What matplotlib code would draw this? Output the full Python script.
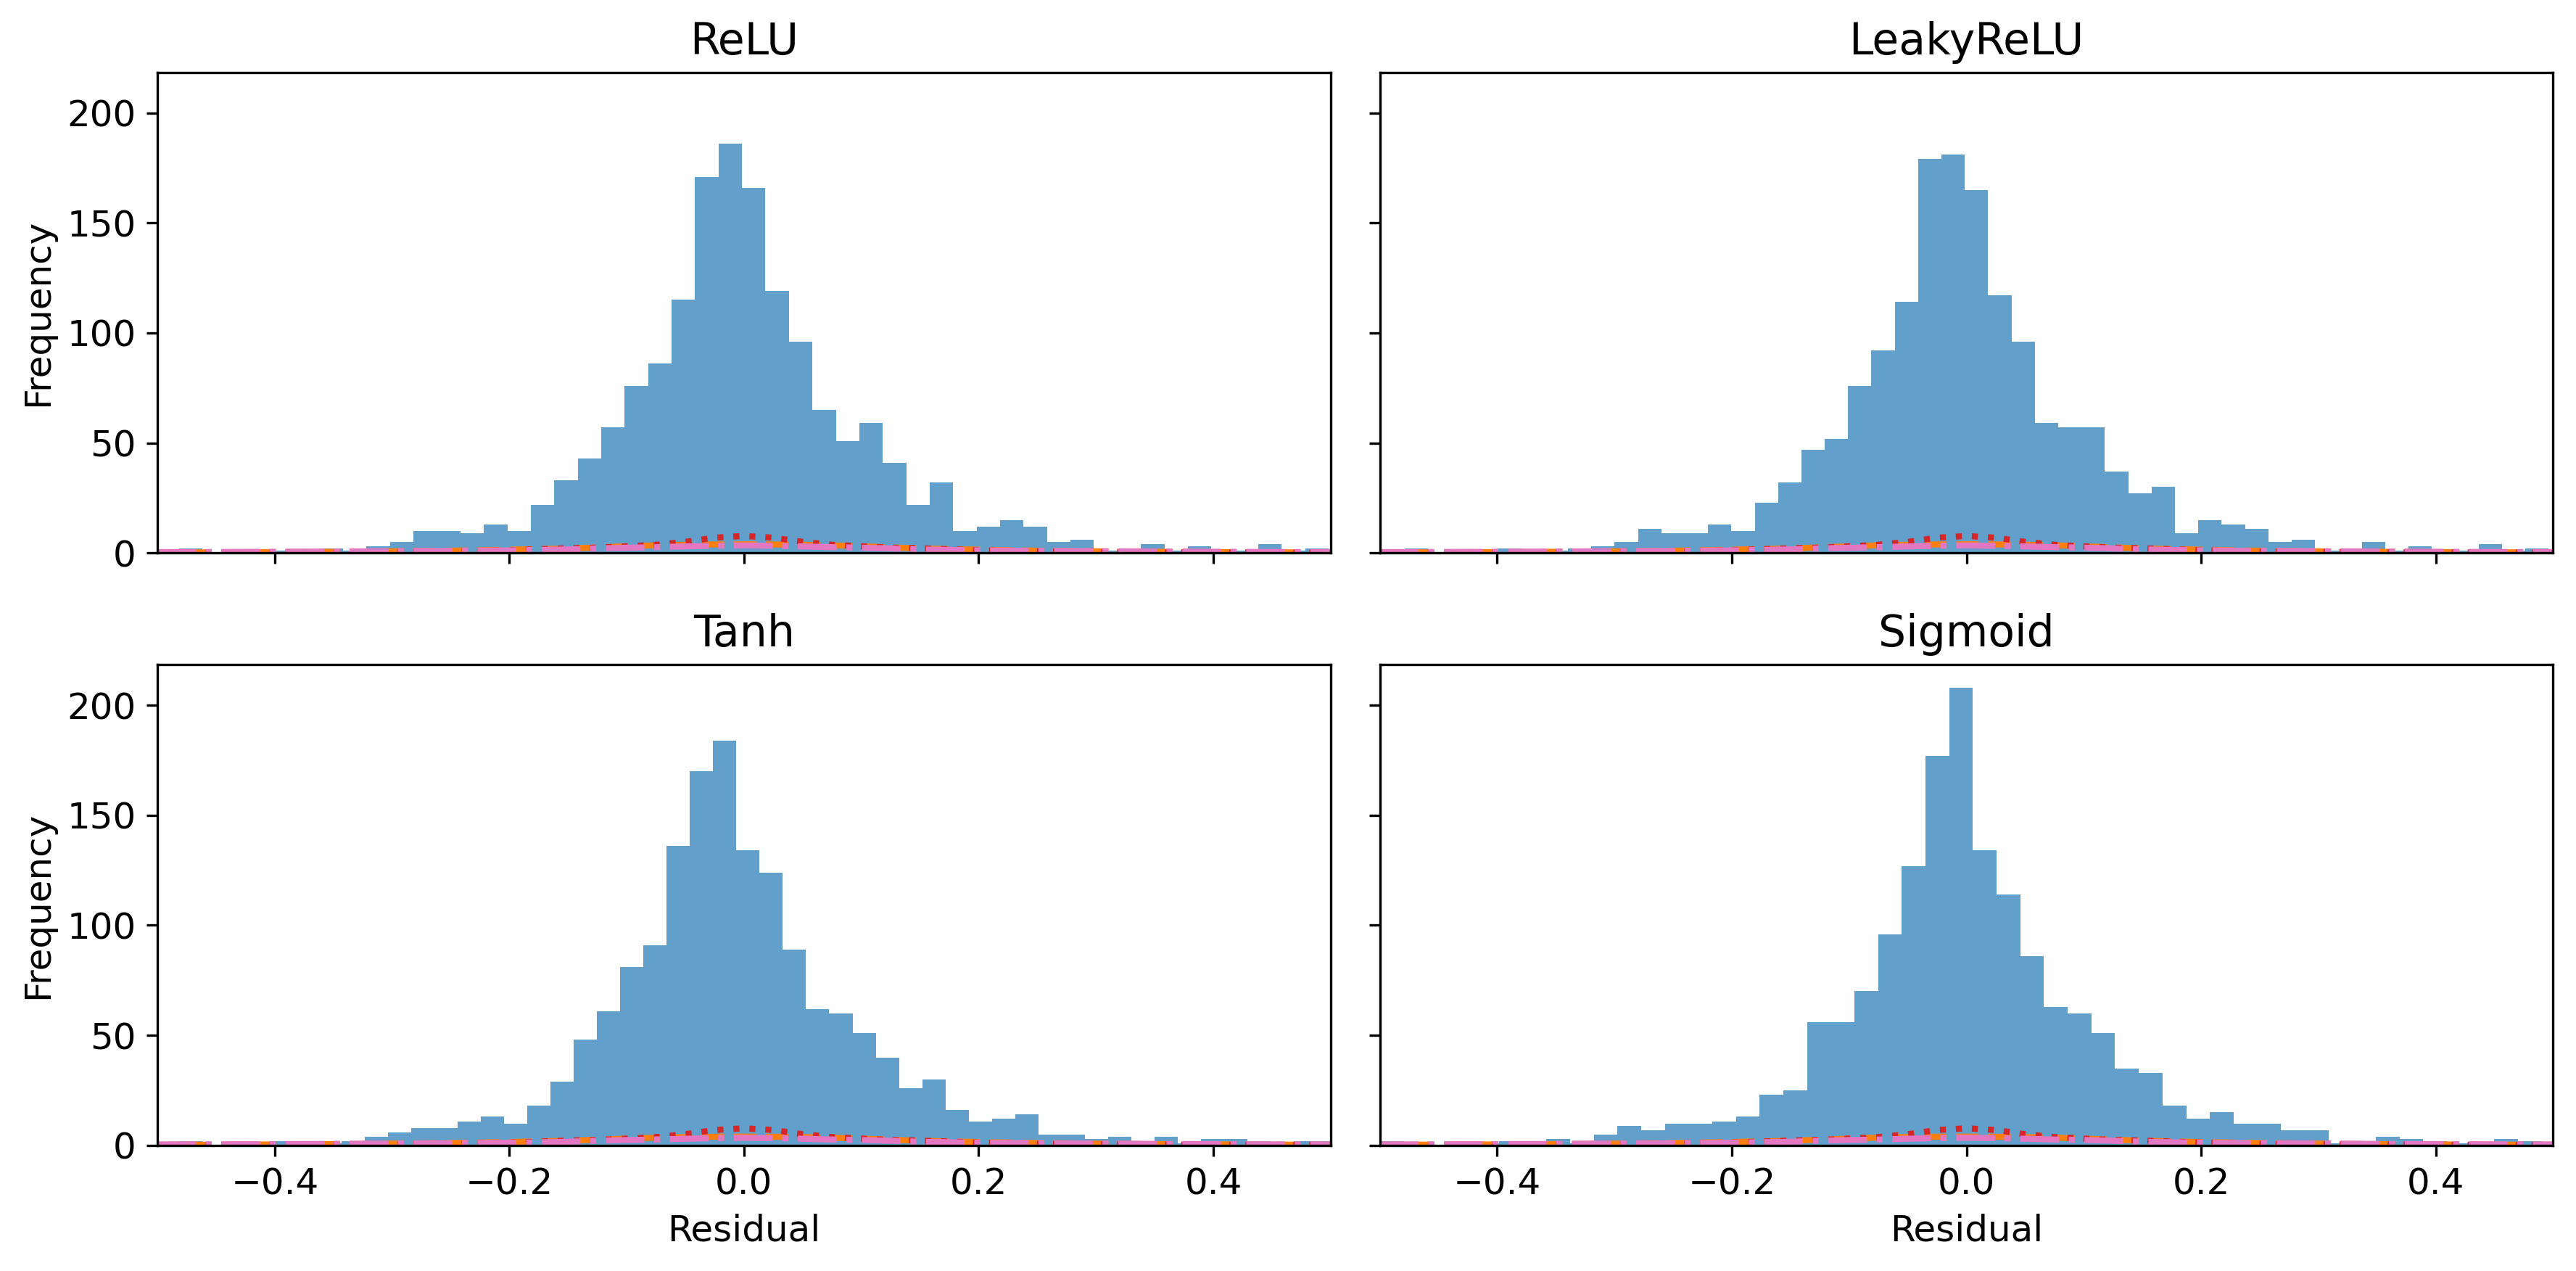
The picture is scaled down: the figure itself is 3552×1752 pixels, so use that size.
import numpy as np
import matplotlib
matplotlib.use("Agg")
import matplotlib.pyplot as plt

plt.rcParams['font.size'] = 12

# ---- data -------------------------------------------------------------
titles = ["ReLU", "LeakyReLU", "Tanh", "Sigmoid"]

# histogram counts per bin (left to right)
relu_counts = [1, 2, 0, 1, 1, 1, 1, 2, 1, 3, 5, 10, 10, 9, 13, 10, 22, 33, 43, 57,
               76, 86, 115, 171, 186, 166, 119, 96, 65, 51, 59, 41, 22, 32, 10, 12,
               15, 12, 5, 6, 1, 1, 4, 1, 3, 1, 1, 4, 1, 2, 1]
leaky_counts = [1, 2, 0, 1, 1, 2, 1, 1, 2, 3, 5, 11, 9, 9, 13, 10, 23, 32, 47, 52,
                76, 92, 114, 179, 181, 165, 117, 96, 59, 57, 57, 37, 27, 30, 9, 15,
                13, 11, 5, 6, 1, 1, 5, 1, 3, 1, 1, 4, 1, 2, 1]
tanh_counts = [1, 2, 0, 1, 1, 2, 1, 1, 2, 4, 6, 8, 8, 11, 13, 10, 18, 29, 48, 61,
               81, 91, 136, 170, 184, 134, 124, 89, 62, 60, 51, 40, 26, 30, 16, 11,
               12, 14, 5, 5, 3, 4, 1, 4, 1, 3, 3, 2, 1, 2, 2]
sigmoid_counts = [2, 1, 0, 1, 1, 2, 1, 3, 1, 5, 9, 7, 10, 10, 11, 13, 23, 25, 56, 56,
                  70, 96, 127, 177, 208, 134, 114, 86, 63, 60, 51, 35, 33, 18, 12, 15,
                  10, 10, 7, 7, 1, 2, 4, 3, 2, 1, 1, 3, 2, 1]
all_counts = [relu_counts, leaky_counts, tanh_counts, sigmoid_counts]

# bin layout (first edge, bin width) per panel
bin_first_edge = [-0.5017, -0.4989, -0.5015, -0.4995]
bin_width = [0.0200, 0.0199, 0.0198, 0.0202]

# overlaid curves (same in every panel)
curve_x = [-0.5, -0.45, -0.4, -0.35, -0.3, -0.25, -0.2, -0.15, -0.125, -0.1, -0.075,
           -0.05, -0.025, 0.0, 0.025, 0.05, 0.075, 0.1, 0.125, 0.15, 0.2, 0.25, 0.3,
           0.35, 0.4, 0.45, 0.5]
curve_orange = [0.3, 0.35, 0.45, 0.6, 0.8, 1.1, 1.55, 2.1, 2.6, 3.1, 3.55, 3.8, 3.95,
                4.0, 3.95, 3.8, 3.55, 3.1, 2.6, 2.1, 1.55, 1.1, 0.8, 0.6, 0.45, 0.35, 0.3]
curve_red = [0.2, 0.25, 0.3, 0.4, 0.55, 0.8, 1.3, 2.2, 2.5, 3.1, 3.8, 5.1, 7.0, 7.8,
             7.0, 5.1, 3.8, 3.1, 2.5, 2.2, 1.3, 0.8, 0.55, 0.4, 0.3, 0.25, 0.2]
curve_pink = [0.45, 0.5, 0.6, 0.7, 0.85, 1.0, 1.25, 1.65, 2.15, 2.45, 2.7, 3.05, 3.3,
              3.5, 3.3, 3.05, 2.7, 2.45, 2.15, 1.65, 1.25, 1.0, 0.85, 0.7, 0.6, 0.5, 0.45]

# ---- figure -----------------------------------------------------------
fig, axes = plt.subplots(2, 2, figsize=(11.84, 5.84), dpi=300, sharex=True, sharey=True)
fig.subplots_adjust(left=0.0611, right=0.9911, top=0.9431, bottom=0.0988,
                    wspace=0.042, hspace=0.232)

for ax, title, counts, e0, w in zip(axes.flat, titles, all_counts, bin_first_edge, bin_width):
    counts = np.asarray(counts, dtype=float)
    edges = e0 + w * np.arange(len(counts) + 1)
    centers = 0.5 * (edges[:-1] + edges[1:])
    ax.hist(centers, bins=edges, weights=counts, color='C0', alpha=0.7,
            histtype='stepfilled', linewidth=0)
    ax.plot(curve_x, curve_orange, color='C1', linestyle='--', linewidth=2)
    ax.plot(curve_x, curve_red, color='C3', linestyle=':', linewidth=2)
    ax.plot(curve_x, curve_pink, color='C6', linestyle='-.', linewidth=2)
    ax.set_title(title, fontsize=14.4)

for ax in axes[:, 0]:
    ax.set_ylabel("Frequency")
for ax in axes[1, :]:
    ax.set_xlabel("Residual")

axes[0, 0].set_xlim(-0.5, 0.5)

fig.savefig("out.png", dpi=300)
